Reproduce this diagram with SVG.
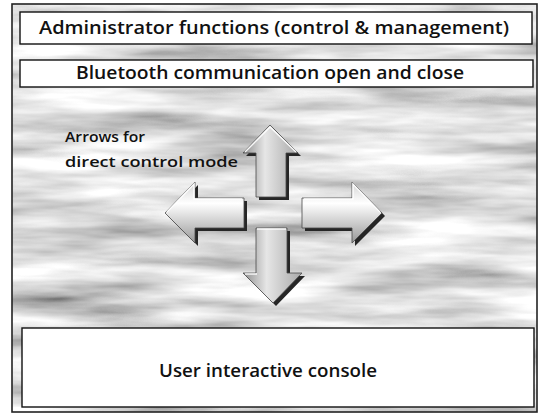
<svg xmlns="http://www.w3.org/2000/svg" width="539" height="416" viewBox="0 0 539 416">
  <defs>
    <!-- streaky grey marble backdrop -->
    <filter id="marble" x="0" y="0" width="100%" height="100%" filterUnits="objectBoundingBox">
      <feTurbulence type="fractalNoise" baseFrequency="0.006 0.045" numOctaves="4" seed="7" result="n"/>
      <feColorMatrix in="n" type="matrix" values="1.3 0 0 0 0.08  1.3 0 0 0 0.08  1.3 0 0 0 0.08  0 0 0 0 1"/>
    </filter>
    <linearGradient id="faceV" x1="0" y1="0" x2="1" y2="0">
      <stop offset="0" stop-color="#8e8e8e"/>
      <stop offset="0.4" stop-color="#e6e6e6"/>
      <stop offset="1" stop-color="#a8a8a8"/>
    </linearGradient>
    <linearGradient id="faceH" x1="0" y1="0" x2="0" y2="1">
      <stop offset="0" stop-color="#d4d4d4"/>
      <stop offset="0.35" stop-color="#ffffff"/>
      <stop offset="1" stop-color="#989898"/>
    </linearGradient>
    <style>
      .box { fill: #ffffff; stroke: #111111; stroke-width: 1.4; }
      .frame { fill: none; stroke: #222222; stroke-width: 1.6; }
      .lbl { font-family: "Open Sans", "Liberation Sans", sans-serif; font-weight: 600; fill: #111111; text-anchor: middle; }
      .note { font-family: "Open Sans", "Liberation Sans", sans-serif; fill: #111111; font-size: 15px; font-weight: 600; }
      .shadow { fill: #262626; }
      .arrowV { fill: url(#faceV); stroke: #4a4a4a; stroke-width: 0.8; }
      .arrowH { fill: url(#faceH); stroke: #4a4a4a; stroke-width: 0.8; }
      .hi { fill: none; stroke: #ffffff; stroke-width: 1.5; stroke-opacity: 0.9; }
    </style>
  </defs>

  <rect x="0" y="0" width="539" height="416" fill="#ffffff"/>
  <rect x="12" y="4" width="525" height="408" filter="url(#marble)"/>
  <rect class="frame" x="12" y="4" width="525" height="408"/>

  <g id="admin-functions">
    <rect class="box" x="20" y="12" width="512" height="32"/>
    <text class="lbl" x="274" y="34" font-size="18" textLength="470" lengthAdjust="spacingAndGlyphs">Administrator functions (control &amp; management)</text>
  </g>

  <g id="bluetooth">
    <rect class="box" x="20" y="60" width="513" height="27"/>
    <text class="lbl" x="270" y="79" font-size="18" textLength="388" lengthAdjust="spacingAndGlyphs">Bluetooth communication open and close</text>
  </g>

  <g id="direct-control-note">
    <text class="note" x="65" y="142" textLength="80" lengthAdjust="spacingAndGlyphs">Arrows for</text>
    <text class="note" x="65" y="167" textLength="173" lengthAdjust="spacingAndGlyphs">direct control  mode</text>
  </g>

  <g id="arrow-up">
    <polygon class="shadow" points="273,128 301,156 289,156 289,200 259,200 259,156 246,156"/>
    <polygon class="arrowV" points="270,125 298,153 286,153 286,197 256,197 256,153 243,153"/>
    <polyline class="hi" points="245,152 270,127 296,152"/>
  </g>
  <g id="arrow-left">
    <polygon class="shadow" points="168,216 198,185 198,201 247,201 247,231 198,231 198,246"/>
    <polygon class="arrowH" points="165,213 195,182 195,198 244,198 244,228 195,228 195,243"/>
    <polyline class="hi" points="167,212 194,184 194,199 242,199"/>
  </g>
  <g id="arrow-right">
    <polygon class="shadow" points="385,216 355,185 355,201 305,201 305,231 355,231 355,246"/>
    <polygon class="arrowH" points="382,213 352,182 352,198 302,198 302,228 352,228 352,243"/>
    <polyline class="hi" points="304,199 353,199 353,184 380,212"/>
  </g>
  <g id="arrow-down">
    <polygon class="shadow" points="276,306 305,276 290,276 290,231 259,231 259,276 246,276"/>
    <polygon class="arrowV" points="273,303 302,273 287,273 287,228 256,228 256,273 243,273"/>
    <polyline class="hi" points="257,229 286,229"/>
    <polyline class="hi" points="245,274 257,274"/>
  </g>

  <g id="user-console">
    <rect class="box" x="22" y="328" width="512" height="79"/>
    <text class="lbl" x="268" y="377" font-size="18" textLength="218" lengthAdjust="spacingAndGlyphs">User interactive console</text>
  </g>
</svg>
